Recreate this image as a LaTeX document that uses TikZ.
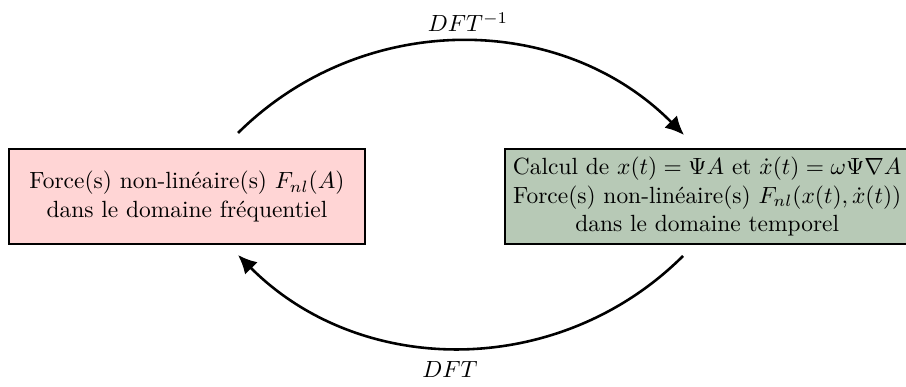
\documentclass[tikz,border=0pt]{standalone}
\usepackage{amsmath}
\usepackage{amssymb}
\usepackage{tikz}
\usetikzlibrary{arrows.meta}
\definecolor{freqfill}{HTML}{FFD5D5}
\definecolor{tempsfill}{HTML}{B7C9B6}
\begin{document}
\begin{tikzpicture}[x=0.015cm,y=0.015cm,
    domainbox/.style={draw=black,line width=1pt,align=center,minimum height=1.425cm},
    dftarrow/.style={line width=1.1pt,-{Latex[length=8pt,width=7.5pt]},bend left=45}]
    \useasboundingbox (0,0) rectangle (906,387);
    % boites des deux domaines
    \node[domainbox,fill=freqfill,minimum width=5.34cm] (freq) at (187,190.5)
      {Force(s) non-lin\'eaire(s) $F_{nl}(A)$\\dans le domaine fr\'equentiel};
    \node[domainbox,fill=tempsfill,anchor=west] (temps) at (504,190.5)
      {Calcul de $x(t)=\Psi A$ et $\dot{x}(t)=\omega\Psi\nabla A$\\
       Force(s) non-lin\'eaire(s) $F_{nl}(x(t),\dot{x}(t))$\\dans le domaine temporel};
    % extremites des fleches
    \coordinate (freqtop) at (238,254);
    \coordinate (tempstop) at (684,252);
    \coordinate (tempsbot) at (683,131);
    \coordinate (freqbot) at (238,132);
    \draw[dftarrow] (freqtop) to (tempstop);
    \draw[dftarrow] (tempsbot) to (freqbot);
    \node[anchor=base] (idft) at (468,355) {$DFT^{-1}$};
    \node[anchor=base] (dft) at (450,9) {$DFT$};
  \end{tikzpicture}
\end{document}
